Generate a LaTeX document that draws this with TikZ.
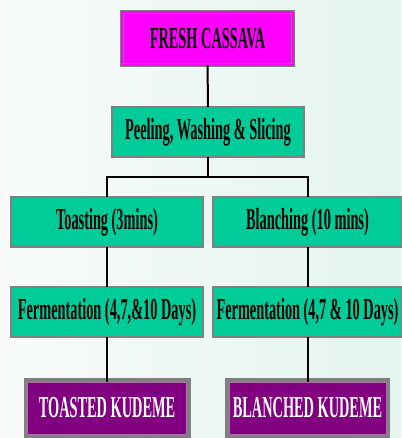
\documentclass[tikz,border=0pt]{standalone}
\usepackage{fontspec}
\setmainfont[FakeStretch=0.47]{Liberation Serif}
\usetikzlibrary{positioning}
\definecolor{procgreen}{RGB}{0,204,153}
\definecolor{boxgray}{RGB}{128,128,128}
\definecolor{freshpink}{RGB}{255,0,255}
\definecolor{kudeme}{RGB}{128,0,128}
\definecolor{kudemeline}{RGB}{176,112,176}
\definecolor{bgleft}{RGB}{248,251,250}
\definecolor{bgright}{RGB}{228,244,238}
\tikzset{
  startbox/.style={
    rectangle,
    draw=boxgray,
    double=freshpink,
    line width=1.2pt,
    double distance=1.8pt,
    fill=freshpink,
    minimum width=171pt,
    minimum height=53pt,
    inner sep=2pt,
    outer sep=0pt,
    font=\fontsize{30.5}{32}\selectfont\bfseries
  },
  procbox/.style={
    rectangle,
    draw=boxgray,
    line width=1.5pt,
    fill=procgreen,
    minimum width=192pt,
    minimum height=50pt,
    inner sep=2pt,
    outer sep=0pt,
    font=\fontsize{30.5}{32}\selectfont\bfseries
  },
  endbox/.style={
    rectangle,
    preaction={draw=boxgray, line width=8pt},
    draw=kudemeline,
    line width=0.8pt,
    fill=kudeme,
    text=white,
    minimum width=159pt,
    minimum height=52pt,
    inner sep=2pt,
    outer sep=0pt,
    font=\fontsize{30.5}{32}\selectfont\bfseries
  },
  link/.style={
    draw=black,
    line width=2pt
  }
}
\begin{document}
\begin{tikzpicture}[x=1pt, y=1pt]

% background
\fill[left color=bgleft, right color=bgright] (0,0) rectangle (401,-438);
\useasboundingbox (0,0) rectangle (401,-438);

\node[startbox] (fresh) at (207.5,-38.5) {FRESH CASSAVA};
\node[procbox, below=42pt of fresh, xshift=0.5pt] (peel) {Peeling, Washing \& Slicing};

\coordinate[below=20pt of peel] (fork);

\node[procbox, below=40pt of peel, xshift=-101pt] (toast) {Toasting (3mins)};
\node[procbox, below=40pt of peel, xshift=99.5pt, minimum width=189pt] (blanch) {Blanching (10 mins)};

\node[procbox, below=40pt of toast] (ferm1) {Fermentation (4,7,\&10 Days)};
\node[procbox, below=40pt of blanch, minimum width=189pt] (ferm2) {Fermentation (4,7 \& 10 Days)};

\node[endbox, below=45pt of ferm1] (toasted) {TOASTED KUDEME};
\node[endbox, below=45pt of ferm2, minimum width=157pt] (blanched) {BLANCHED KUDEME};

\draw[link] (fresh) -- (peel);
\draw[link] (peel) -- (fork);
\draw[link] (fork) -| (toast);
\draw[link] (fork) -| (blanch);

\draw[link] (toast) -- (ferm1);
\draw[link] (blanch) -- (ferm2);

\draw[link] (ferm1) -- (toasted);
\draw[link] (ferm2) -- (blanched);

\end{tikzpicture}
\end{document}
